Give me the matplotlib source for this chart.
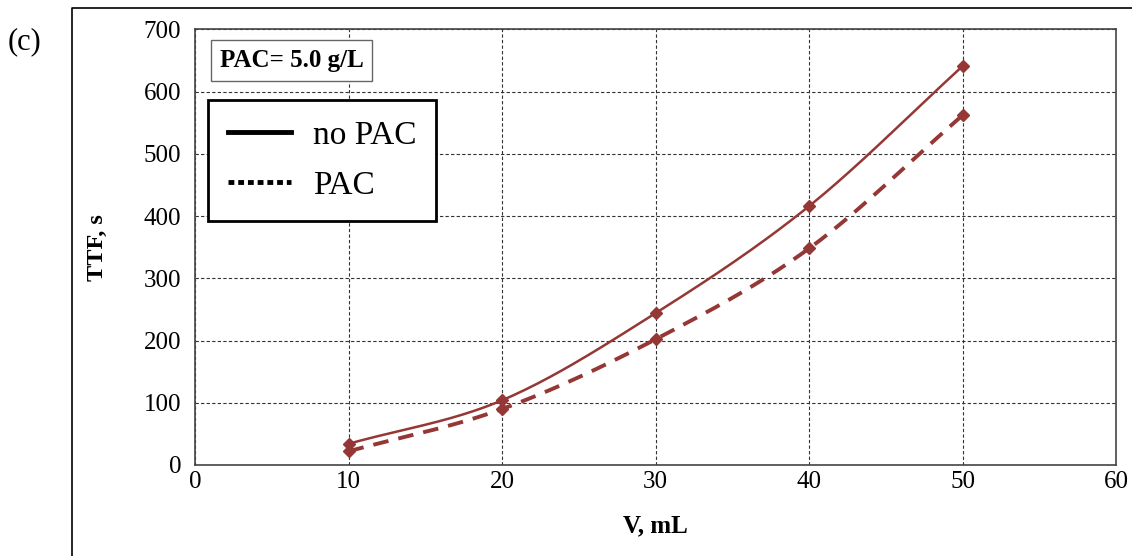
import numpy as np
import matplotlib
matplotlib.use('Agg')
import matplotlib.pyplot as plt
from matplotlib.lines import Line2D

plt.rcParams['font.family'] = ['Liberation Serif', 'DejaVu Serif']

# data
volume = [10, 20, 30, 40, 50]
ttf_no_pac = [34, 104, 244, 416, 641]
ttf_pac = [22, 90, 202, 348, 562]
x_ticks = [0, 10, 20, 30, 40, 50, 60]
y_ticks = [0, 100, 200, 300, 400, 500, 600, 700]

RED = '#953735'


def smooth(xs, ys, n=40):
    # Catmull-Rom style curve, like Excel's "smoothed line"
    p = np.column_stack([xs, ys]).astype(float)
    p = np.vstack([2 * p[0] - p[1], p, 2 * p[-1] - p[-2]])
    out = []
    for i in range(1, len(p) - 2):
        p0, p1, p2, p3 = p[i - 1], p[i], p[i + 1], p[i + 2]
        t = np.linspace(0, 1, n)[:, None]
        seg = 0.5 * ((2 * p1) + (-p0 + p2) * t
                     + (2 * p0 - 5 * p1 + 4 * p2 - p3) * t ** 2
                     + (-p0 + 3 * p1 - 3 * p2 + p3) * t ** 3)
        out.append(seg if i == 1 else seg[1:])
    out = np.vstack(out)
    return out[:, 0], out[:, 1]


fig = plt.figure(figsize=(11.32, 5.56), dpi=100)
ax = fig.add_axes([0.1723, 0.1637, 0.9859 - 0.1723, 0.947 - 0.1637])

sx, sy = smooth(volume, ttf_no_pac)
ax.plot(sx, sy, color=RED, lw=1.8, zorder=3)
ax.plot(volume, ttf_no_pac, ls='none', marker='D', ms=6.5, color=RED, zorder=4)

sx, sy = smooth(volume, ttf_pac)
ax.plot(sx, sy, color=RED, lw=2.8, ls=(0, (4, 2.6)), zorder=3)
ax.plot(volume, ttf_pac, ls='none', marker='D', ms=6.5, color=RED, zorder=4)

ax.set_xlim(0, 60)
ax.set_ylim(0, 700)
ax.set_xticks(x_ticks)
ax.set_yticks(y_ticks)
ax.tick_params(length=0, labelsize=18)
ax.tick_params(axis='y', pad=10)
ax.tick_params(axis='x', pad=4)
ax.grid(True, color='#333333', ls=(0, (3, 2)), lw=0.8)
for s in ax.spines.values():
    s.set_color('#444444')
    s.set_linewidth(1.2)

ax.set_xlabel('V, mL', fontsize=18, fontweight='bold', labelpad=16)
ax.set_ylabel('TTF, s', fontsize=17.5, fontweight='bold', labelpad=26)

ax.text(0.027, 0.955, 'PAC= 5.0 g/L', transform=ax.transAxes, fontsize=18,
        fontweight='bold', va='top', ha='left',
        bbox=dict(boxstyle='square,pad=0.35', fc='white', ec='#666666', lw=1))

handles = [Line2D([], [], color='black', lw=3.5),
           Line2D([], [], color='black', lw=3.5, ls=(0, (1.2, 0.8)))]
leg = ax.legend(handles, ['no PAC', 'PAC'], loc='upper left',
                bbox_to_anchor=(0.014, 0.838), fontsize=24, frameon=True,
                fancybox=False, handlelength=1.9, borderpad=0.6,
                labelspacing=0.6, handletextpad=0.65, borderaxespad=0)
leg.get_frame().set_edgecolor('black')
leg.get_frame().set_linewidth(2)
leg.get_frame().set_alpha(1)

fig.text(8 / 1132, 1 - 42 / 556, '(c)', fontsize=22, va='center', ha='left')

# outer frame around the panel (left and top edges)
fig.add_artist(Line2D([72 / 1132, 72 / 1132, 1.0], [0.0, 1 - 8 / 556, 1 - 8 / 556],
                      color='black', lw=1.2, transform=fig.transFigure))

fig.savefig('out.png', dpi=100)
